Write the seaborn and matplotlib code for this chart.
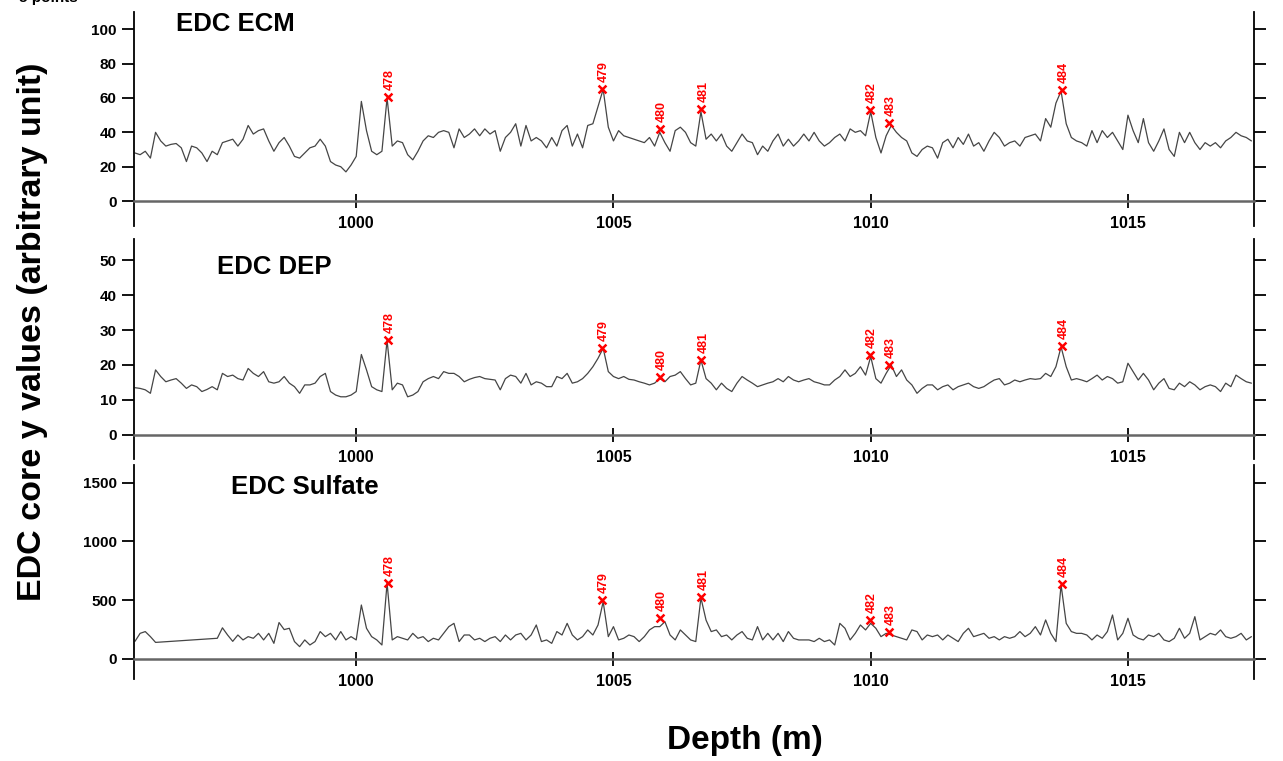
import numpy as np
import pandas as pd
import matplotlib
matplotlib.use("Agg")
import matplotlib.pyplot as plt
import seaborn as sns

# depth grid of the three records (m), 0.1 m steps from 995.7 to 1017.4
depth = np.round(np.arange(995.7, 1017.45, 0.1), 1)

# EDC ECM (arbitrary unit), rows = one metre each
ecm = [
    28, 27, 29,
    25, 40, 35, 32, 33, 33.5, 31, 23, 32, 31,
    28, 23, 29, 27, 34, 35, 36, 32, 36, 44,
    39, 41, 42, 35, 29, 34, 37, 32, 26, 25,
    28, 31, 32, 36, 32, 23, 21, 20, 17, 21,
    26, 58, 41, 29, 27, 29, 60, 32, 35, 34,
    27, 24, 29, 35, 38, 37, 40, 41, 40, 31,
    42, 37, 39, 42, 38, 42, 39, 41, 29, 37,
    40, 45, 32, 44, 35, 37, 35, 31, 37, 32,
    41, 44, 32, 39, 31, 44, 45, 55, 65, 43,
    35, 41, 38, 37, 36, 35, 34, 37, 32, 40,
    34, 29, 41, 43, 40, 34, 32, 52, 36, 39,
    35, 39, 32, 29, 34, 39, 35, 34, 27, 32,
    29, 35, 39, 32, 36, 32, 35, 39, 35, 40,
    35, 32, 34, 37, 39, 35, 42, 40, 41, 38,
    52, 37, 28, 38, 44, 40, 37, 35, 28, 26,
    30, 32, 31, 25, 34, 36, 31, 37, 33, 39,
    32, 34, 29, 35, 40, 37, 32, 34, 35, 32,
    37, 38, 39, 35, 48, 43, 57, 64, 45, 37,
    35, 34, 32, 41, 34, 41, 37, 40, 35, 30,
    50, 41, 34, 48, 34, 29, 35, 42, 30, 26,
    40, 34, 40, 34, 30, 34, 32, 34, 31, 35,
    37, 40, 38, 37, 35,
]

# EDC DEP
dep = [
    13.5, 13.3, 12.9,
    11.9, 18.6, 16.7, 15.2, 15.7, 16.1, 14.8, 13.3, 14.3, 13.8,
    12.4, 13.0, 13.8, 12.9, 17.6, 16.7, 17.1, 16.1, 15.7, 19.0,
    17.6, 16.7, 18.1, 15.2, 14.8, 15.2, 16.7, 14.8, 13.8, 11.9,
    14.3, 14.3, 14.8, 16.7, 17.6, 12.4, 11.4, 10.9, 10.9, 11.4,
    12.4, 23.0, 18.6, 13.8, 12.9, 12.4, 27.0, 12.9, 14.8, 14.3,
    10.9, 11.4, 12.4, 15.2, 16.1, 16.7, 16.1, 18.1, 17.6, 17.6,
    16.7, 15.2, 15.9, 16.4, 16.7, 16.1, 15.9, 15.7, 12.9, 16.1,
    17.1, 16.7, 14.8, 17.6, 14.3, 15.2, 14.8, 13.8, 13.8, 16.7,
    16.1, 17.6, 14.8, 15.2, 16.1, 17.6, 19.5, 21.9, 24.8, 18.1,
    16.7, 16.1, 16.7, 15.9, 15.7, 15.2, 14.8, 14.3, 14.8, 16.1,
    15.2, 16.7, 17.1, 18.1, 16.1, 14.3, 14.8, 21.4, 16.1, 14.8,
    12.9, 14.8, 13.3, 12.4, 14.8, 16.7, 15.7, 14.8, 13.8, 14.3,
    14.8, 15.2, 16.1, 15.2, 16.7, 15.7, 15.2, 15.7, 16.1, 15.2,
    14.8, 14.3, 14.3, 15.7, 16.7, 18.6, 16.7, 17.6, 19.5, 17.1,
    22.4, 16.1, 14.8, 17.6, 20.0, 16.7, 18.6, 15.7, 14.3, 11.9,
    13.3, 14.3, 14.3, 12.9, 13.8, 14.3, 12.9, 13.8, 14.3, 14.8,
    13.8, 13.3, 13.8, 14.8, 15.7, 16.1, 14.3, 14.8, 15.7, 15.2,
    15.7, 16.1, 15.9, 16.1, 17.6, 16.7, 19.5, 25.2, 19.5, 15.7,
    16.1, 15.7, 15.2, 16.1, 17.1, 15.7, 16.7, 16.1, 14.8, 15.2,
    20.5, 18.1, 15.7, 17.6, 15.7, 12.9, 14.8, 16.1, 13.3, 12.9,
    14.8, 13.8, 15.2, 14.3, 12.9, 13.8, 14.3, 13.8, 12.4, 14.8,
    13.8, 17.1, 16.1, 15.2, 14.8,
]

# EDC sulfate (no samples between 996.2 and 997.2 m)
sulfate = [
    150, 218, 233,
    190, 141, None, None, None, None, None, None, None, None,
    None, None, None, 176, 265, 204, 150, 204, 162, 190,
    176, 218, 162, 218, 133, 310, 250, 261, 148, 105,
    162, 119, 148, 233, 190, 218, 162, 233, 162, 190,
    162, 459, 261, 190, 162, 119, 645, 162, 190, 176,
    162, 218, 176, 190, 148, 176, 162, 218, 275, 303,
    148, 204, 204, 162, 176, 148, 176, 190, 148, 204,
    162, 204, 218, 162, 204, 289, 148, 162, 133, 233,
    204, 303, 204, 162, 190, 247, 204, 289, 487, 190,
    275, 162, 176, 204, 190, 148, 190, 247, 275, 275,
    317, 204, 162, 247, 204, 162, 148, 520, 330, 233,
    247, 190, 204, 162, 204, 233, 176, 162, 275, 162,
    218, 162, 218, 148, 233, 176, 162, 162, 162, 148,
    176, 148, 162, 119, 303, 261, 162, 218, 289, 247,
    303, 261, 190, 218, 204, 190, 176, 162, 247, 233,
    162, 204, 190, 204, 162, 204, 176, 148, 218, 261,
    190, 204, 218, 176, 190, 162, 190, 176, 190, 233,
    190, 218, 275, 204, 332, 218, 148, 630, 303, 233,
    218, 218, 204, 162, 204, 176, 233, 374, 162, 218,
    346, 204, 176, 162, 204, 190, 218, 162, 148, 176,
    261, 176, 218, 360, 162, 190, 218, 204, 247, 190,
    176, 190, 218, 162, 190,
]

# tie points (volcanic events)
event_ids = ["478", "479", "480", "481", "482", "483", "484"]
event_depth = [1000.62, 1004.78, 1005.90, 1006.71, 1009.98, 1010.35, 1013.72]
event_ecm = [60.5, 65, 42, 53.5, 53, 45.7, 64.5]
event_dep = [27.1, 24.8, 16.5, 21.5, 22.8, 20.1, 25.5]
event_sulfate = [649, 502, 351, 530, 332, 227, 635]

panel_names = ["EDC ECM", "EDC DEP", "EDC Sulfate"]
x_ticks = [1000, 1005, 1010, 1015]

sns.set_style("ticks")
plt.rcParams["font.family"] = ["Liberation Sans", "DejaVu Sans"]
plt.rcParams["font.weight"] = "bold"
plt.rcParams["text.color"] = "black"
plt.rcParams["axes.labelcolor"] = "black"
plt.rcParams["xtick.color"] = "black"
plt.rcParams["ytick.color"] = "black"

fig = plt.figure(figsize=(12.83, 7.61), dpi=100)

panels = [
    # values, events, ylim, yticks, axes rect, title position
    (ecm, event_ecm, (-14.5, 110), [0, 20, 40, 60, 80, 100],
     [0.1044, 0.703, 0.873, 0.2812], (0.0375, 0.944)),
    (dep, event_dep, (-6.9, 56), [0, 10, 20, 30, 40, 50],
     [0.1044, 0.3968, 0.873, 0.289], (0.074, 0.873)),
    (sulfate, event_sulfate, (-170, 1650), [0, 500, 1000, 1500],
     [0.1044, 0.1078, 0.873, 0.2812], (0.0866, 0.897)),
]

for name, (vals, ev_vals, ylim, yticks, rect, tpos) in zip(panel_names, panels):
    ax = fig.add_axes(rect)
    df = pd.DataFrame({"depth": depth, "value": pd.array(vals, dtype="Float64")})
    df["value"] = df["value"].astype(float)
    sns.lineplot(data=df, x="depth", y="value", ax=ax, color="#454545",
                 linewidth=0.9, estimator=None)

    ev = pd.DataFrame({"depth": event_depth, "value": ev_vals, "id": event_ids})
    sns.scatterplot(data=ev, x="depth", y="value", ax=ax, marker="x",
                    color="red", s=32, linewidth=1.8, zorder=5)
    for _, r in ev.iterrows():
        ax.annotate(r["id"], (r["depth"], r["value"]), xytext=(1.5, 5),
                    textcoords="offset points", rotation=90, ha="center",
                    va="bottom", color="red", fontsize=9, fontweight="bold")

    ax.set_xlim(995.68, 1017.45)
    ax.set_ylim(*ylim)
    ax.set_xticks(x_ticks)
    ax.set_yticks(yticks)
    ax.set_xlabel("")
    ax.set_ylabel("")

    ax.spines["top"].set_visible(False)
    ax.spines["bottom"].set_position(("data", 0))
    ax.spines["bottom"].set_color("#666666")
    ax.spines["bottom"].set_linewidth(1.8)
    for side in ["left", "right"]:
        ax.spines[side].set_visible(True)
        ax.spines[side].set_color("black")
        ax.spines[side].set_linewidth(1.3)

    ax.tick_params(axis="x", direction="inout", length=10, width=1.3,
                   pad=6, labelsize=11.5, colors="black")
    ax.tick_params(axis="y", direction="out", length=8.5, width=1.3,
                   pad=4, labelsize=11, colors="black",
                   right=True, labelright=False)
    for lab in ax.get_xticklabels() + ax.get_yticklabels():
        lab.set_fontweight("bold")

    ax.text(tpos[0], tpos[1], name, transform=ax.transAxes, fontsize=18.5,
            fontweight="bold", ha="left", va="center", color="black")

fig.text(0.025, 0.5637, "EDC core y values (arbitrary unit)", rotation=90,
         ha="center", va="center", fontsize=24.5, fontweight="bold",
         color="black")
fig.text(0.5807, 0.0263, "Depth (m)", ha="center", va="center",
         fontsize=24, fontweight="bold", color="black")
fig.text(78 / 1283, 1 - 2 / 761, "5 points", ha="right", va="baseline",
         fontsize=11, fontweight="bold", color="black")

fig.savefig("out.png", dpi=100)
